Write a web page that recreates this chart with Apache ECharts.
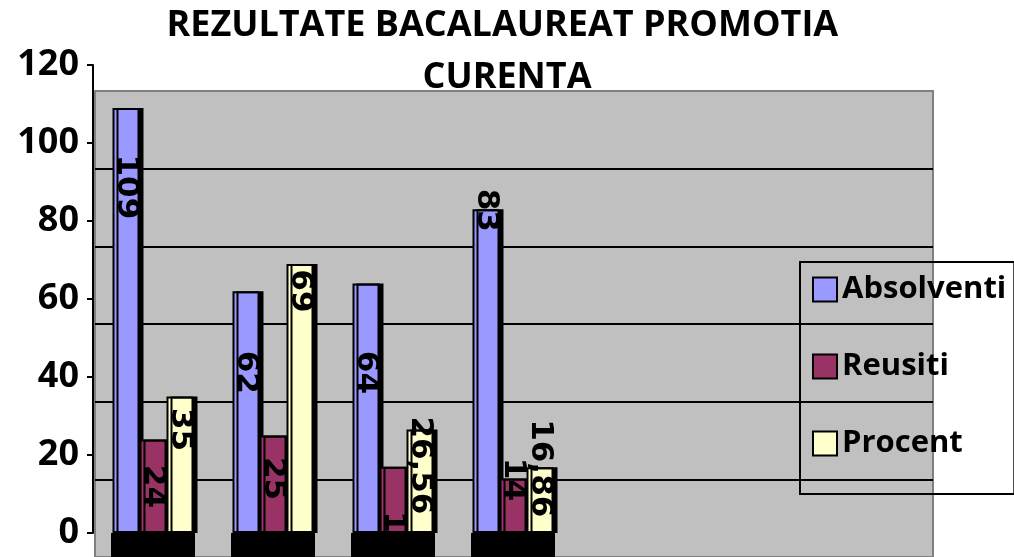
<!DOCTYPE html>
<html>
<head>
<meta charset="utf-8">
<title>Rezultate bacalaureat</title>
<script src="https://cdn.jsdelivr.net/npm/echarts@6/dist/echarts.min.js"></script>
<style>
  html, body { margin: 0; padding: 0; background: #fff; }
  #chart { width: 1014px; height: 557px; }
</style>
</head>
<body>
<div id="chart"></div>
<script>
// valori
const categories = ['1', '2', '3', '4', '5', '6', '7']
const absolventi = [109, 62, 64, 83, null, null, null]
const reusiti = [24, 25, 17, 14, null, null, null]
const procent = [35, 69, 26.56, 16.86, null, null, null]
const yTicks = [0, 20, 40, 60, 80, 100, 120]
// podeaua neagra (efect 3D) de sub fiecare grup de coloane
const floor = [1, 1, 1, 1, null, null, null]

// cat coboara eticheta fata de varful coloanei (px)
const dropAbs = [79, 81, 89, 1]
const dropReu = [47, 43, 66, 1]
const dropPro = [33, 27, 36, 1]

const yMin = yTicks[0]
const yMax = yTicks[yTicks.length - 1]
const yStep = yTicks[1] - yTicks[0]

const makeSeries = (name, values, color, drops) => ({
  name,
  type: 'bar',
  xAxisIndex: 1,
  yAxisIndex: 1,
  barWidth: 27,
  barGap: '0%',
  itemStyle: {
    color,
    borderColor: '#000',
    borderWidth: 2,
    shadowColor: '#000',
    shadowOffsetX: 4,
    shadowBlur: 0,
  },
  label: {
    show: true,
    rotate: -90,
    align: 'center',
    verticalAlign: 'middle',
    fontFamily: 'DejaVu Sans',
    fontWeight: 'bold',
    fontSize: 31,
    color: '#000',
    formatter: (p) => String(p.value).replace('.', ','),
  },
  data: values.map((v, i) => (v == null ? v : { value: v, label: { position: ['50%', drops[i]] } })),
})

const hiddenCat = (gridIndex) => ({
  type: 'category',
  gridIndex,
  data: categories,
  axisLine: { show: false },
  axisTick: { show: false },
  axisLabel: { show: false },
})

const option = {
  animation: false,
  title: {
    text: 'REZULTATE BACALAUREAT PROMOTIA CURENTA',
    left: 'center',
    top: 0,
    padding: 0,
    textStyle: {
      fontFamily: 'Open Sans',
      fontWeight: 'bold',
      fontSize: 36,
      color: '#000',
      lineHeight: 52,
      width: 720,
      overflow: 'break',
    },
  },
  legend: {
    orient: 'vertical',
    left: 800,
    top: 262,
    padding: [12, 8, 35, 12],
    itemWidth: 24,
    itemHeight: 24,
    itemGap: 46,
    borderColor: '#000',
    borderWidth: 2,
    backgroundColor: 'transparent',
    icon: 'rect',
    data: ['Absolventi', 'Reusiti', 'Procent'],
    itemStyle: { borderColor: '#000', borderWidth: 2, shadowColor: 'transparent' },
    textStyle: {
      fontFamily: 'Open Sans',
      fontWeight: 'bold',
      fontSize: 31,
      color: '#000',
    },
  },
  grid: [
    // peretele din spate
    { left: 95, right: 81, top: 91, bottom: -3, show: true, backgroundColor: '#c0c0c0', borderColor: '#808080', borderWidth: 2 },
    // coloanele
    { left: 93, right: 81, top: 65, bottom: 24 },
    // podeaua
    { left: 93, right: 81, top: 533, bottom: 0 },
  ],
  xAxis: [hiddenCat(0), hiddenCat(1), hiddenCat(2)],
  yAxis: [
    {
      type: 'value',
      gridIndex: 0,
      min: yMin,
      max: yMax,
      interval: yStep,
      axisLine: { show: false },
      axisTick: { show: false },
      axisLabel: { show: false },
      splitLine: { showMinLine: false, showMaxLine: false, lineStyle: { color: '#000', width: 2 } },
    },
    {
      type: 'value',
      gridIndex: 1,
      min: yMin,
      max: yMax,
      interval: yStep,
      axisLine: { show: true, lineStyle: { color: '#000', width: 2 } },
      axisTick: { show: true, length: 6, lineStyle: { color: '#000', width: 2 } },
      axisLabel: {
        fontFamily: 'Open Sans',
        fontWeight: 'bold',
        fontSize: 36,
        color: '#000',
        margin: 14,
      },
      splitLine: { show: false },
    },
    { type: 'value', gridIndex: 2, min: 0, max: 1, show: false },
  ],
  series: [
    makeSeries('Absolventi', absolventi, '#9999ff', dropAbs),
    makeSeries('Reusiti', reusiti, '#993366', dropReu),
    makeSeries('Procent', procent, '#ffffcc', dropPro),
    {
      name: 'podea',
      type: 'bar',
      xAxisIndex: 2,
      yAxisIndex: 2,
      barWidth: 84,
      z: 3,
      itemStyle: { color: '#000' },
      data: floor,
    },
  ],
}

const chart = echarts.init(document.getElementById('chart'))
chart.setOption(option)
window.addEventListener('resize', () => chart.resize())
</script>
</body>
</html>
